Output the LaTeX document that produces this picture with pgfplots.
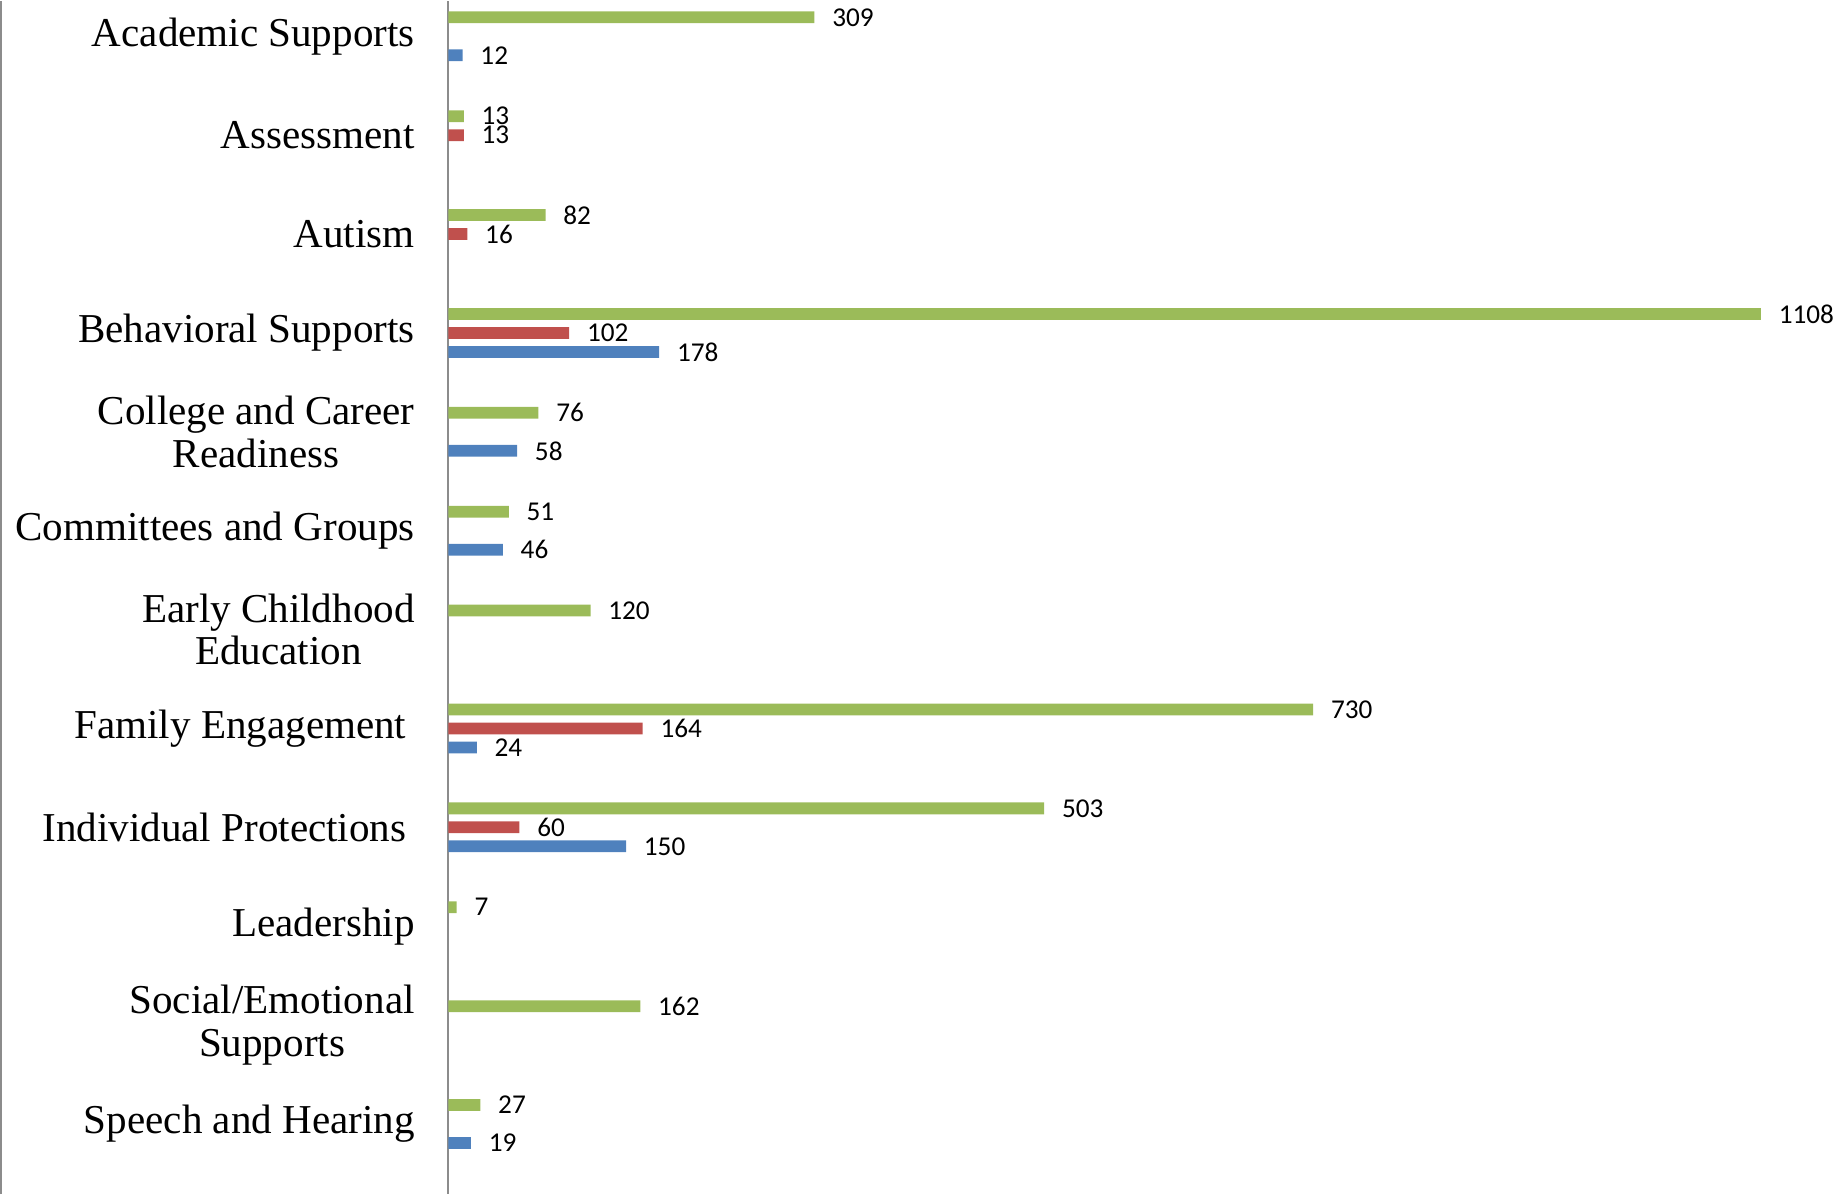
\documentclass[border=0pt]{standalone}
\usepackage{pgfplots}
\pgfplotsset{compat=1.18}
\usepackage{fontspec}
\setmainfont{Liberation Serif}
\newfontfamily\calibri{Carlito}
\definecolor{sgreen}{HTML}{9BBB59}
\definecolor{sred}{HTML}{C0504D}
\definecolor{sblue}{HTML}{4F81BD}
\definecolor{axisgray}{HTML}{8C8C8C}

\begin{document}
\begin{tikzpicture}
\begin{axis}[
  scale only axis, width=555.6pt, height=473.6pt,
  xmin=0, xmax=1181.4,
  ymin=-0.357, ymax=11.708, y dir=reverse,
  xbar, bar width=0.119,
  axis x line=none, axis y line*=left,
  y axis line style={-, draw=axisgray, line width=0.8pt},
  ytick={0,...,11}, major tick length=0pt,
  yticklabels={Academic Supports, Assessment, Autism, Behavioral Supports,
    {College and Career\\Readiness}, Committees and Groups,
    {Early Childhood\\Education}, {Family Engagement\hspace*{3.3pt}},
    {Individual Protections\hspace*{3.3pt}}, Leadership,
    {Social/Emotional\\Supports}, Speech and Hearing},
  yticklabel style={font=\fontsize{16.3}{16.9}\selectfont, align=center, inner sep=0pt, xshift=-13.2pt},
  /pgf/number format/1000 sep={},
  /pgf/number format/assume math mode=true,
  nodes near coords,
  every node near coord/.append style={font=\calibri\fontsize{10.8}{12}\selectfont, anchor=west, inner sep=0pt, xshift=6.9pt, text=black},
  clip=false,
]
\addplot[fill=sgreen, draw=none, bar shift=-0.192] coordinates {
  (309,0) (13,1) (82,2) (1108,3) (76,4) (51,5) (120,6) (730,7) (503,8) (7,9) (162,10) (27,11)};
\addplot[fill=sred, draw=none, bar shift=0] coordinates {
  (13,1) (16,2) (102,3) (164,7) (60,8)};
\addplot[fill=sblue, draw=none, bar shift=0.192] coordinates {
  (12,0) (178,3) (58,4) (46,5) (24,7) (150,8) (19,11)};
\draw[axisgray, line width=0.8pt] ([xshift=-177.6pt]rel axis cs:0,0) -- ([xshift=-177.6pt]rel axis cs:0,1);
\end{axis}
\end{tikzpicture}
\end{document}
